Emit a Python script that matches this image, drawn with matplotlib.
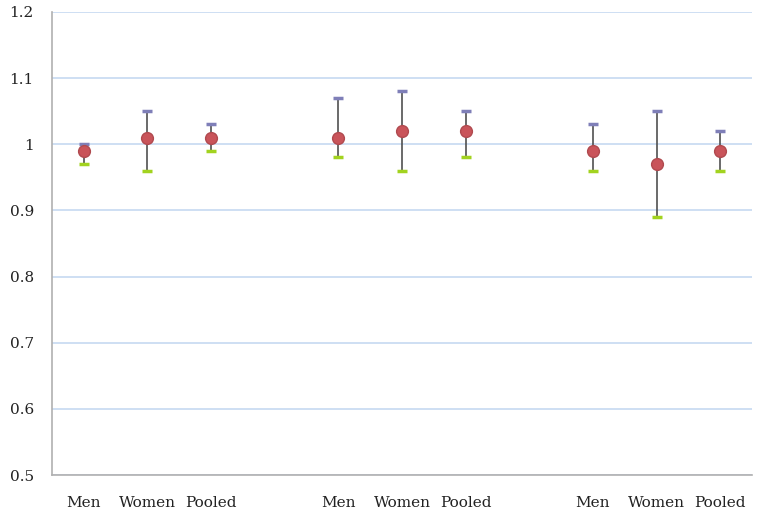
import matplotlib
matplotlib.use("Agg")
import matplotlib.pyplot as plt

# Categories (blank slots separate the three groups)
labels = ["Men", "Women", "Pooled", "",
          "Men", "Women", "Pooled", "",
          "Men", "Women", "Pooled"]
estimate = [0.99, 1.01, 1.01, None, 1.01, 1.02, 1.02, None, 0.99, 0.97, 0.99]
upper = [1.00, 1.05, 1.03, None, 1.07, 1.08, 1.05, None, 1.03, 1.05, 1.02]
lower = [0.97, 0.96, 0.99, None, 0.98, 0.96, 0.98, None, 0.96, 0.89, 0.96]

plt.rcParams['font.family'] = ['DejaVu Serif']

fig = plt.figure(figsize=(7.62, 5.17), dpi=100)
ax = fig.add_axes([0.068, 0.081, 0.919, 0.896])

xs = [i for i, e in enumerate(estimate) if e is not None]
est = [estimate[i] for i in xs]
hi = [upper[i] for i in xs]
lo = [lower[i] for i in xs]

ax.vlines(xs, lo, hi, color="#505050", lw=1.2, zorder=3)
ax.plot(xs, hi, ls="none", marker="_", ms=6.5, mew=2.5, color="#7f7fb8", zorder=4)
ax.plot(xs, lo, ls="none", marker="_", ms=6.5, mew=2.5, color="#a2d31f", zorder=4)
ax.plot(xs, est, ls="none", marker="o", ms=8.5, mfc="#c9545a", mec="#b04a4f",
        mew=1, zorder=5)

ax.set_xlim(-0.5, len(labels) - 0.5)
ax.set_ylim(0.5, 1.2)
ax.set_xticks(range(len(labels)))
ax.set_xticklabels(labels)
ax.set_yticks([0.5, 0.6, 0.7, 0.8, 0.9, 1.0, 1.1, 1.2])
ax.set_yticklabels(["0.5", "0.6", "0.7", "0.8", "0.9", "1", "1.1", "1.2"])
ax.tick_params(axis="x", length=0, labelsize=11, colors="#222222", pad=15)
ax.tick_params(axis="y", length=0, labelsize=11, colors="#222222", pad=13)

ax.grid(axis="y", color="#c6d9f1", lw=1.2)
ax.set_axisbelow(True)
for s in ["top", "right"]:
    ax.spines[s].set_visible(False)
for s in ["left", "bottom"]:
    ax.spines[s].set_color("#b0b0b0")
    ax.spines[s].set_linewidth(1.2)

fig.savefig("out.png", dpi=100)
